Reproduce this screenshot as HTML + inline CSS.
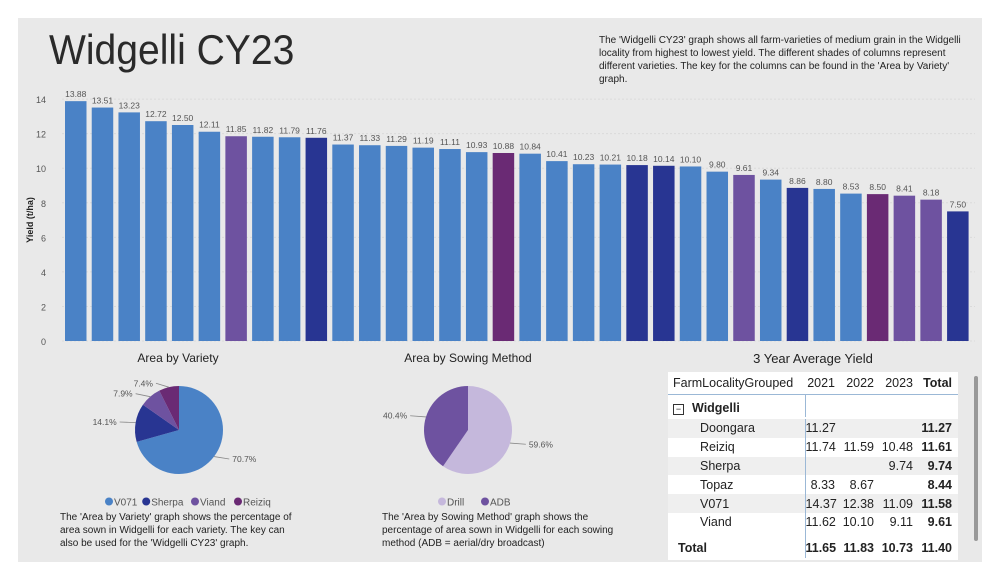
<!DOCTYPE html>
<html><head><meta charset="utf-8">
<style>
body{margin:0;width:1001px;height:579px;background:#fff;font-family:"Liberation Sans",sans-serif;overflow:hidden;position:relative}
#panel{position:absolute;left:18px;top:18px;width:964px;height:544px;background:#e9e9e9}
.abs{position:absolute}
table{border-collapse:collapse;table-layout:fixed}
td{padding:0;white-space:nowrap}
</style></head><body>
<div id="panel"></div>
<div class="abs" style="left:49px;top:26px;font-size:42px;color:#2a2a2a;transform:scaleX(0.93);transform-origin:left top">Widgelli CY23</div>
<div class="abs" style="left:599px;top:34px;width:380px;font-size:10px;line-height:13px;color:#222">The 'Widgelli CY23' graph shows all farm-varieties of medium grain in the Widgelli locality from highest to lowest yield. The different shades of columns represent different varieties. The key for the columns can be found in the 'Area by Variety' graph.</div>
<svg class="abs" style="left:0;top:0" width="1001" height="579" id="chart"></svg>

<div class="abs" style="left:90px;top:351px;width:176px;text-align:center;font-size:12px;color:#222">Area by Variety</div>
<div class="abs" style="left:358px;top:351px;width:220px;text-align:center;font-size:12px;color:#222">Area by Sowing Method</div>
<div class="abs" style="left:60px;top:511px;width:245px;font-size:10px;line-height:13px;color:#222">The 'Area by Variety' graph shows the percentage of area sown in Widgelli for each variety. The key can also be used for the 'Widgelli CY23' graph.</div>
<div class="abs" style="left:382px;top:511px;width:245px;font-size:10px;line-height:13px;color:#222">The 'Area by Sowing Method' graph shows the percentage of area sown in Widgelli for each sowing method (ADB = aerial/dry broadcast)</div>

<div class="abs" style="left:668px;top:351px;width:290px;text-align:center;font-size:13px;color:#222">3 Year Average Yield</div>
<div class="abs" style="left:668px;top:372px;width:290px;height:188px;background:#fff;font-size:12.5px;color:#222">
<table style="width:290px">
<colgroup><col style="width:137px"><col style="width:30px"><col style="width:39px"><col style="width:39px"><col style="width:45px"></colgroup>
<tr style="height:22px;border-bottom:1px solid #9bb8d6"><td style="padding-left:5px">FarmLocalityGrouped</td><td style="text-align:right">2021</td><td style="text-align:right">2022</td><td style="text-align:right">2023</td><td style="font-weight:bold;text-align:right;padding-right:6px">Total</td></tr>
<tr style="height:5px"><td style="border-right:1px solid #9bb8d6"></td><td colspan="4"></td></tr>
<tr style="height:18px"><td style="border-right:1px solid #9bb8d6;font-weight:bold;padding-left:5px"><span style="display:inline-block;width:9px;height:9px;border:1px solid #333;font-size:9px;line-height:8px;text-align:center;margin-right:8px;font-weight:normal">−</span>Widgelli</td><td colspan="4"></td></tr>
</table>
<table id="tbl" style="width:290px;position:absolute;left:0;top:47px">
<colgroup><col style="width:137px"><col style="width:30px"><col style="width:39px"><col style="width:39px"><col style="width:45px"></colgroup>
</table>
</div>
<div class="abs" style="left:974px;top:376px;width:4px;height:165px;background:#999;border-radius:2px"></div>

<script>
const yields=[13.88,13.51,13.23,12.72,12.50,12.11,11.85,11.82,11.79,11.76,11.37,11.33,11.29,11.19,11.11,10.93,10.88,10.84,10.41,10.23,10.21,10.18,10.14,10.10,9.80,9.61,9.34,8.86,8.80,8.53,8.50,8.41,8.18,7.50];
const varieties=["V","V","V","V","V","V","Vi","V","V","S","V","V","V","V","V","V","R","V","V","V","V","S","S","V","V","Vi","V","S","V","V","R","Vi","Vi","S"];
const yTicks=[0,2,4,6,8,10,12,14];
const pie1Labels=["V071","Sherpa","Viand","Reiziq"];
const pie1Values=[70.7,14.1,7.9,7.4];
const pie2Labels=["Drill","ADB"];
const pie2Values=[59.6,40.4];
const rowNames=["Doongara","Reiziq","Sherpa","Topaz","V071","Viand"];
const col2021=["11.27","11.74","","8.33","14.37","11.62"];
const col2022=["","11.59","","8.67","12.38","10.10"];
const col2023=["","10.48","9.74","","11.09","9.11"];
const colTotal=["11.27","11.61","9.74","8.44","11.58","9.61"];
const totals=["11.65","11.83","10.73","11.40"];

const colors={V:"#4a82c6",S:"#283592",Vi:"#6e52a0",R:"#6a2a74"};
const NS="http://www.w3.org/2000/svg";
const svg=document.getElementById('chart');
function mk(t,a){const e=document.createElementNS(NS,t);for(const k in a)e.setAttribute(k,a[k]);svg.appendChild(e);return e;}
const y0=341,ppu=17.28,x0=65,step=26.73,bw=21.5;
const yS=v=>y0-v*ppu, xS=i=>x0+i*step;
yTicks.forEach(t=>{
  const g=mk('line',{x1:62,x2:975,y1:yS(t),y2:yS(t),stroke:"#dadada","stroke-dasharray":"2,2"});
  
  
  const l=mk('text',{x:46,y:yS(t)+4,"font-size":9,fill:"#555","text-anchor":"end"});l.textContent=t;
  
  
});
const yt=mk('text',{x:0,y:0,"font-size":9,fill:"#222","font-weight":"bold","text-anchor":"middle",transform:"translate(33,220) rotate(-90)"});yt.textContent="Yield (t/ha)";


yields.forEach((v,i)=>{
  const r=mk('rect',{x:xS(i),y:yS(v),width:bw,height:v*ppu,fill:colors[varieties[i]]});
  
  
  const t=mk('text',{x:xS(i)+bw/2,y:yS(v)-4,"font-size":8.5,fill:"#555","text-anchor":"middle"});t.textContent=v.toFixed(2);
  
  
});
function pie(cx,cy,r,vals,labels,cols){
  let a=0;const tot=vals.reduce((s,v)=>s+v,0);
  vals.forEach((v,i)=>{
    const a1=a+v/tot*2*Math.PI;
    const p=(ang)=>[cx+r*Math.sin(ang),cy-r*Math.cos(ang)];
    const [sx,sy]=p(a),[ex,ey]=p(a1);
    const s=mk('path',{d:`M${cx},${cy}L${sx},${sy}A${r},${r} 0 ${a1-a>Math.PI?1:0} 1 ${ex},${ey}Z`,fill:cols[i]});
    
    
    const m=(a+a1)/2;const lx=cx+(r+4)*Math.sin(m),ly=cy-(r+4)*Math.cos(m);
    const right=Math.sin(m)>0;const ex2=lx+(right?12:-12);
    mk('line',{x1:cx+r*Math.sin(m),y1:cy-r*Math.cos(m),x2:ex2,y2:ly,stroke:"#888","stroke-width":0.8});
    const t=mk('text',{x:ex2+(right?3:-3),y:ly+3,"font-size":8.5,fill:"#555","text-anchor":right?"start":"end"});
    t.textContent=v.toFixed(1)+"%";
    
    
    a=a1;
  });
}
pie(179,430,44,pie1Values,pie1Labels,[colors.V,colors.S,colors.Vi,colors.R]);
pie(468,430,44,pie2Values,pie2Labels,["#c5b8dc","#6e52a0"]);
function legend(x,y,labels,cols){
  labels.forEach((l,i)=>{
    mk('circle',{cx:x+4,cy:y-3.5,r:4,fill:cols[i]});
    const t=mk('text',{x:x+9,y:y+0.5,"font-size":10,fill:"#555"});t.textContent=l;
    
    
    x+=9+l.length*5.8+5;
  });
}
legend(105,505,pie1Labels,[colors.V,colors.S,colors.Vi,colors.R]);
legend(438,505,pie2Labels,["#c5b8dc","#6e52a0"]);

const tbl=document.getElementById('tbl');
let h='';
rowNames.forEach((n,i)=>{
  h+=`<tr style="height:18.8px;background:${i%2==0?'#efefef':'#fff'}"><td style="padding-left:32px;border-right:1px solid #9bb8d6">${n}</td><td style="text-align:right">${col2021[i]}</td><td style="text-align:right">${col2022[i]}</td><td style="text-align:right">${col2023[i]}</td><td style="text-align:right;font-weight:bold;padding-right:6px">${colTotal[i]}</td></tr>`;
});
h+=`<tr style="height:6px"><td style="border-right:1px solid #9bb8d6"></td><td colspan="4"></td></tr>`;
h+=`<tr style="height:20px;font-weight:bold"><td style="padding-left:10px;border-right:1px solid #9bb8d6">Total</td>${totals.map((t,i)=>`<td style="text-align:right;${i==3?'padding-right:6px':''}">${t}</td>`).join('')}</tr>`;
tbl.insertAdjacentHTML('beforeend',h);
</script>
</body></html>
